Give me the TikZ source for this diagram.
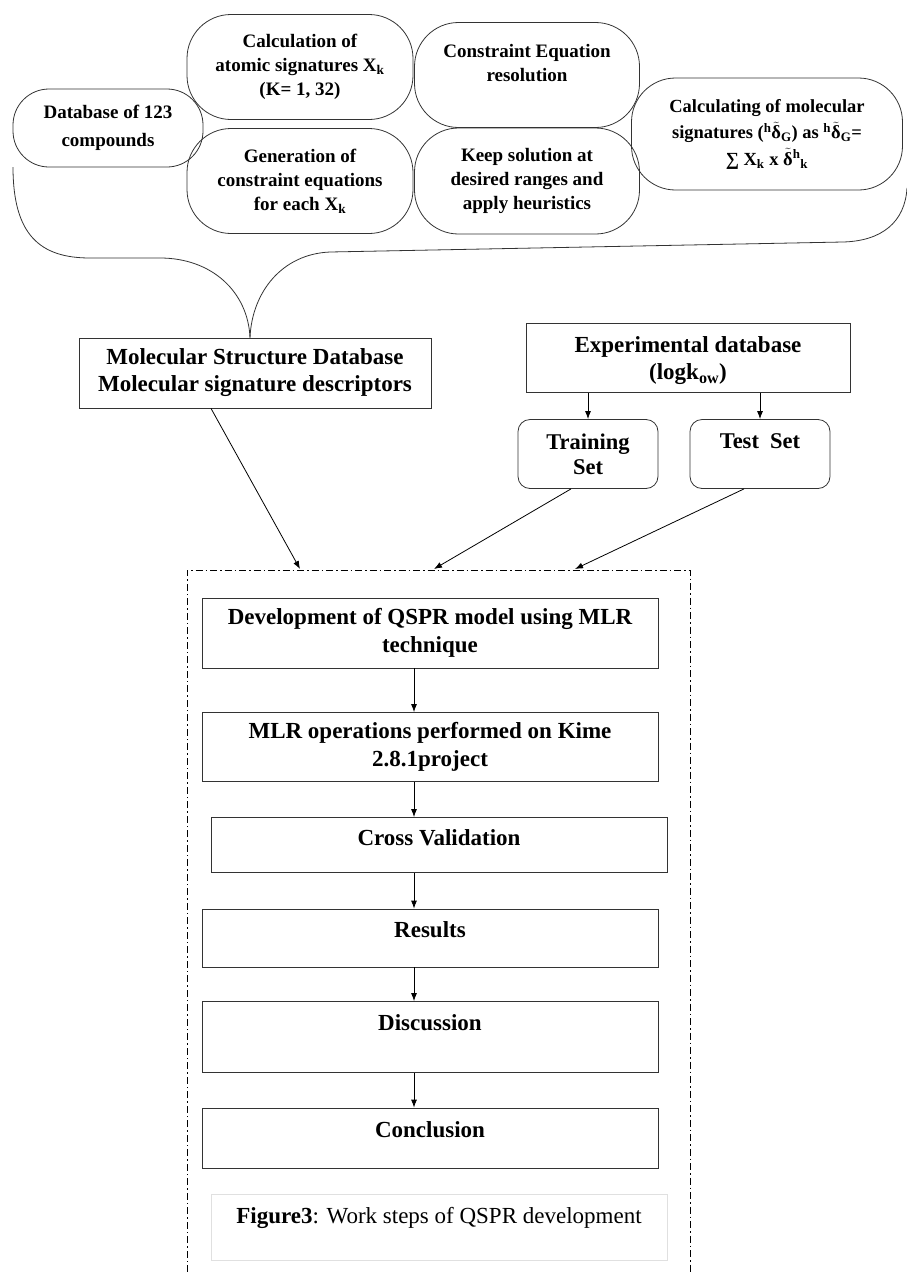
\documentclass[tikz,border=0pt]{standalone}
\usepackage{amsmath}
\usepackage{fontspec}
\setmainfont{Liberation Serif}
\usetikzlibrary{arrows.meta}
\newcommand{\tdel}{\ensuremath{\tilde{\text{δ}}}}
\begin{document}
\begin{tikzpicture}
  [x=1pt,y=-1pt,line width=0.8pt,
   oval/.style={draw=black!80,rounded corners=44pt,align=center,inner sep=0pt,
     font=\fontsize{19}{24}\selectfont\bfseries},
   bigbox/.style={draw=black!80,align=center,inner sep=0pt,
     font=\fontsize{23}{27}\selectfont\bfseries},
   setbox/.style={draw=black!80,rounded corners=12pt,align=center,inner sep=0pt,
     minimum width=140,minimum height=69,font=\fontsize{22.5}{25}\selectfont\bfseries},
   stepbox/.style={draw=black!80,align=center,inner sep=0pt,minimum width=456,
     font=\fontsize{23}{28}\selectfont\bfseries},
   lift/.style={text depth=#1},
   arr/.style={-{Latex[length=8pt,width=6pt]}},
   dashdot/.style={dash pattern=on 7pt off 3pt on 1.5pt off 3pt}]
  \useasboundingbox (0,0) rectangle (907,1272);

  % signature generation
  \node (db)[oval,rounded corners=36pt,minimum width=190,minimum height=78,
    font=\fontsize{19}{28}\selectfont\bfseries] at (108,128)
    {Database of 123\\compounds};
  \node (calc)[oval,minimum width=226,minimum height=105] at (300,67)
    {Calculation of\\atomic signatures X\textsubscript{k}\\(K= 1, 32)};
  \node (gen)[oval,minimum width=226,minimum height=105] at (300,181)
    {Generation of\\constraint equations\\for each X\textsubscript{k}};
  \node (cons)[oval,minimum width=225,minimum height=105] at (527,75)
    {Constraint Equation\\resolution\\\mbox{}};
  \node (keep)[oval,minimum width=225,minimum height=106] at (527,181)
    {Keep solution at\\desired ranges and\\apply heuristics};
  \node (molsig)[oval,minimum width=271,minimum height=112,
    font=\fontsize{18.5}{26.5}\selectfont\bfseries] at (767,134)
    {Calculating of molecular\\signatures (\textsuperscript{h}\tdel\textsubscript{G}) as
     \textsuperscript{h}\tdel\textsubscript{G}=\\
     ∑ X\textsubscript{k} x \tdel\textsuperscript{h}\textsubscript{k}};

  % databases
  \node (mol)[bigbox,minimum width=352,minimum height=70] at (255,373)
    {Molecular Structure Database\\Molecular signature descriptors};
  \node (exp)[bigbox,minimum width=324,minimum height=69,text depth=0pt] at (688,358)
    {Experimental database\\(logk\textsubscript{ow})};
  \node (train)[setbox] at (588,454) {Training\\Set};
  \node (test)[setbox] at (760,454) {Test\ \ Set\\\mbox{}};

  % brace
  \coordinate (tip) at ([xshift=-5pt]mol.north);
  \draw[black!80] (13,167) .. controls (13,235) and (40,258) .. (90,258)
    -- (160,258) .. controls (212,258) and (248,292) .. (tip);
  \draw[black!80] (tip) .. controls (252,292) and (282,254) .. (330,252)
    -- (843,242) .. controls (882,241) and (905,222) .. (907,188);

  % QSPR steps
  \draw[dashdot] (187,1272) -- (187,570) -- (690,570) -- (690,1272);
  \coordinate (in1) at (300,569);
  \coordinate (in2) at (434,569);
  \coordinate (in3) at (575,569);
  \coordinate (spine) at (414,0);

  \node (dev)[stepbox,minimum height=70] at (430,633)
    {Development of QSPR model using MLR\\technique};
  \node (mlr)[stepbox,minimum height=69] at (430,747)
    {MLR operations performed on Kime\\2.8.1project};
  \node (cross)[stepbox,minimum height=55,lift=15pt] at (439,845) {Cross Validation};
  \node (res)[stepbox,minimum height=58,lift=16pt] at (430,938) {Results};
  \node (disc)[stepbox,minimum height=71,lift=29pt] at (430,1037) {Discussion};
  \node (concl)[stepbox,minimum height=60,lift=16pt] at (430,1138) {Conclusion};
  \node (cap)[stepbox,draw=black!12,minimum height=66,lift=24pt,
    font=\fontsize{23}{28}\selectfont] at (439,1227)
    {\textbf{Figure3}: Work steps of QSPR development};

  \foreach \to in {train,test}
    \draw[arr] (exp.south -| \to.north) -- (\to.north);
  \draw[arr] ([xshift=-44pt]mol.south) -- (in1);
  \draw[arr] ([xshift=-17pt]train.south) -- (in2);
  \draw[arr] ([xshift=-16pt]test.south) -- (in3);
  \foreach \from/\to in {dev/mlr,mlr/cross,cross/res,res/disc,disc/concl}
    \draw[arr] (\from.south -| spine) -- (\to.north -| spine);
\end{tikzpicture}
\end{document}
